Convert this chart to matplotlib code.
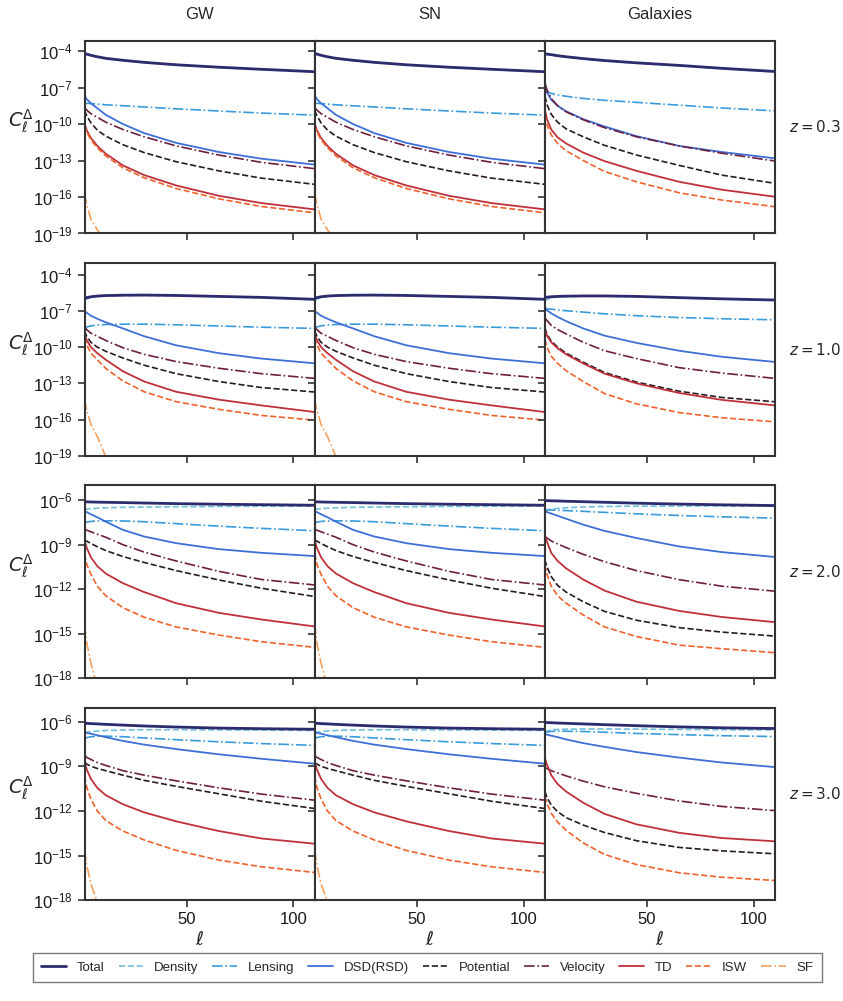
import numpy as np
import matplotlib
matplotlib.use("Agg")
import matplotlib.pyplot as plt
import matplotlib.ticker as mticker
import seaborn as sns

sns.set_style("ticks")
plt.rcParams["font.family"] = ["Liberation Sans", "DejaVu Sans"]
plt.rcParams["mathtext.fontset"] = "dejavusans"

ell = [2, 3, 5, 8, 12, 20, 30, 45, 65, 85, 110]

components = ["Total", "Density", "Lensing", "DSD(RSD)", "Potential",
              "Velocity", "TD", "ISW", "SF"]
surveys = ["GW", "SN", "Galaxies"]
redshifts = ["0.3", "1.0", "2.0", "3.0"]

# log10 C_ell for each component (GW and SN curves coincide)
gw_z03 = {
    "Total":     [-4.19, -4.25, -4.35, -4.47, -4.6, -4.76, -4.93, -5.13, -5.33, -5.5, -5.7],
    "Density":   [-4.21, -4.27, -4.37, -4.49, -4.62, -4.78, -4.95, -5.15, -5.35, -5.52, -5.72],
    "Lensing":   [-8.31, -8.3, -8.32, -8.36, -8.42, -8.5, -8.6, -8.75, -8.93, -9.1, -9.27],
    "DSD(RSD)":  [-7.63, -7.95, -8.3, -8.7, -9.25, -10.0, -10.75, -11.55, -12.3, -12.85, -13.34],
    "Potential": [-8.86, -9.3, -9.9, -10.5, -11.0, -11.7, -12.35, -13.1, -13.85, -14.45, -14.96],
    "Velocity":  [-8.62, -8.85, -9.15, -9.45, -9.85, -10.45, -11.05, -11.8, -12.55, -13.15, -13.67],
    "TD":        [-9.96, -10.5, -11.15, -11.8, -12.45, -13.4, -14.2, -15.05, -15.9, -16.5, -17.02],
    "ISW":       [-10.1, -10.65, -11.3, -11.95, -12.62, -13.6, -14.42, -15.3, -16.15, -16.78, -17.3],
    "SF":        [-15.68, -16.6, -17.8, -18.7, -19.6, -21.0, -22.5, -24.0, -26.0, -28.0, -30.0],
}
gw_z10 = {
    "Total":     [-5.94, -5.9, -5.83, -5.77, -5.73, -5.7, -5.69, -5.72, -5.8, -5.88, -6.04],
    "Density":   [-6.12, -6.02, -5.9, -5.8, -5.75, -5.72, -5.71, -5.74, -5.82, -5.9, -6.06],
    "Lensing":   [-8.4, -8.33, -8.24, -8.17, -8.13, -8.1, -8.1, -8.15, -8.25, -8.35, -8.45],
    "DSD(RSD)":  [-6.99, -7.15, -7.4, -7.65, -7.95, -8.45, -9.1, -9.85, -10.5, -10.95, -11.34],
    "Potential": [-8.65, -9.1, -9.6, -10.0, -10.35, -10.9, -11.5, -12.2, -12.85, -13.35, -13.72],
    "Velocity":  [-8.32, -8.55, -8.85, -9.1, -9.45, -10.05, -10.6, -11.2, -11.75, -12.2, -12.59],
    "TD":        [-8.93, -9.4, -10.0, -10.5, -11.05, -12.0, -12.85, -13.7, -14.35, -14.83, -15.38],
    "ISW":       [-9.2, -9.8, -10.5, -11.05, -11.77, -12.8, -13.7, -14.52, -15.15, -15.66, -16.05],
    "SF":        [-14.3, -15.2, -16.4, -17.4, -19.1, -21.0, -23.0, -25.0, -27.0, -29.0, -31.0],
}
gw_z20 = {
    "Total":     [-6.11, -6.11, -6.12, -6.13, -6.14, -6.16, -6.19, -6.23, -6.27, -6.3, -6.34],
    "Density":   [-6.63, -6.6, -6.57, -6.54, -6.51, -6.48, -6.46, -6.44, -6.42, -6.41, -6.4],
    "Lensing":   [-7.52, -7.48, -7.43, -7.4, -7.39, -7.4, -7.45, -7.58, -7.75, -7.9, -8.06],
    "DSD(RSD)":  [-6.74, -6.8, -6.95, -7.15, -7.45, -8.0, -8.45, -8.9, -9.3, -9.55, -9.77],
    "Potential": [-8.69, -8.76, -8.92, -9.14, -9.4, -9.8, -10.2, -10.75, -11.38, -11.94, -12.5],
    "Velocity":  [-7.95, -8.02, -8.13, -8.29, -8.5, -9.0, -9.5, -10.1, -10.8, -11.35, -11.72],
    "TD":        [-8.69, -9.2, -9.85, -10.45, -10.95, -11.6, -12.2, -12.95, -13.6, -14.05, -14.52],
    "ISW":       [-9.6, -10.3, -11.0, -11.8, -12.45, -13.25, -13.9, -14.55, -15.1, -15.55, -15.93],
    "SF":        [-14.3, -15.6, -17.0, -18.6, -20.5, -22.0, -24.0, -26.0, -28.0, -30.0, -32.0],
}
gw_z30 = {
    "Total":     [-6.11, -6.12, -6.14, -6.16, -6.19, -6.24, -6.3, -6.37, -6.44, -6.48, -6.52],
    "Density":   [-6.74, -6.72, -6.68, -6.64, -6.6, -6.57, -6.55, -6.55, -6.56, -6.58, -6.6],
    "Lensing":   [-7.15, -7.08, -7.02, -6.99, -6.98, -7.02, -7.1, -7.22, -7.36, -7.48, -7.6],
    "DSD(RSD)":  [-6.74, -6.76, -6.82, -6.92, -7.05, -7.3, -7.55, -7.85, -8.2, -8.5, -8.83],
    "Potential": [-8.76, -8.85, -9.0, -9.15, -9.3, -9.6, -9.95, -10.35, -10.85, -11.35, -11.84],
    "Velocity":  [-8.31, -8.4, -8.55, -8.75, -8.95, -9.3, -9.6, -9.98, -10.45, -10.87, -11.28],
    "TD":        [-8.65, -9.2, -9.85, -10.45, -10.95, -11.55, -12.1, -12.7, -13.35, -13.85, -14.2],
    "ISW":       [-9.66, -10.4, -11.2, -12.0, -12.65, -13.35, -13.95, -14.65, -15.3, -15.75, -16.13],
    "SF":        [-14.6, -15.6, -16.9, -18.1, -20.0, -22.0, -24.0, -26.0, -28.0, -30.0, -32.0],
}

gal_z03 = {
    "Total":     [-4.22, -4.25, -4.3, -4.38, -4.47, -4.62, -4.78, -4.97, -5.18, -5.42, -5.68],
    "Density":   [-4.25, -4.28, -4.33, -4.41, -4.5, -4.65, -4.81, -5.0, -5.21, -5.45, -5.71],
    "Lensing":   [-7.32, -7.38, -7.48, -7.6, -7.72, -7.9, -8.05, -8.22, -8.45, -8.68, -8.92],
    "DSD(RSD)":  [-6.9, -7.4, -8.0, -8.5, -8.95, -9.6, -10.2, -11.0, -11.8, -12.3, -12.82],
    "Potential": [-7.7, -8.4, -9.2, -9.85, -10.4, -11.05, -11.75, -12.55, -13.4, -14.2, -14.88],
    "Velocity":  [-6.6, -7.2, -7.9, -8.5, -9.0, -9.65, -10.3, -11.05, -11.8, -12.4, -13.04],
    "TD":        [-8.8, -9.6, -10.45, -11.1, -11.6, -12.35, -13.05, -13.85, -14.75, -15.4, -15.98],
    "ISW":       [-9.25, -10.05, -10.9, -11.6, -12.2, -13.0, -13.9, -14.75, -15.65, -16.25, -16.8],
    "SF":        [-30, -30, -30, -30, -30, -30, -30, -30, -30, -30, -30],
}
gal_z10 = {
    "Total":     [-5.88, -5.86, -5.83, -5.8, -5.78, -5.76, -5.76, -5.8, -5.9, -6.0, -6.1],
    "Density":   [-6.16, -6.05, -5.92, -5.84, -5.8, -5.78, -5.78, -5.82, -5.92, -6.02, -6.12],
    "Lensing":   [-6.8, -6.82, -6.86, -6.92, -6.99, -7.1, -7.24, -7.4, -7.55, -7.65, -7.74],
    "DSD(RSD)":  [-6.8, -6.95, -7.2, -7.5, -7.85, -8.45, -9.05, -9.65, -10.3, -10.8, -11.23],
    "Potential": [-8.38, -8.95, -9.5, -10.0, -10.5, -11.25, -12.1, -12.9, -13.65, -14.17, -14.53],
    "Velocity":  [-7.55, -7.8, -8.2, -8.55, -8.9, -9.6, -10.3, -10.95, -11.7, -12.15, -12.59],
    "TD":        [-8.5, -9.05, -9.6, -10.1, -10.6, -11.35, -12.2, -13.0, -13.8, -14.37, -14.83],
    "ISW":       [-9.35, -10.0, -10.75, -11.35, -11.95, -12.85, -13.85, -14.7, -15.42, -15.85, -16.19],
    "SF":        [-30, -30, -30, -30, -30, -30, -30, -30, -30, -30, -30],
}
gal_z20 = {
    "Total":     [-6.02, -6.03, -6.04, -6.05, -6.07, -6.1, -6.14, -6.2, -6.26, -6.31, -6.36],
    "Density":   [-6.7, -6.66, -6.6, -6.55, -6.51, -6.46, -6.42, -6.4, -6.39, -6.39, -6.4],
    "Lensing":   [-6.65, -6.65, -6.66, -6.68, -6.7, -6.75, -6.82, -6.92, -7.03, -7.12, -7.21],
    "DSD(RSD)":  [-6.76, -6.8, -6.9, -7.05, -7.25, -7.65, -8.07, -8.55, -9.12, -9.5, -9.83],
    "Potential": [-10.0, -10.5, -11.15, -11.75, -12.2, -12.85, -13.5, -14.1, -14.6, -14.9, -15.17],
    "Velocity":  [-8.44, -8.55, -8.75, -8.95, -9.2, -9.65, -10.15, -10.75, -11.36, -11.8, -12.14],
    "TD":        [-8.33, -8.8, -9.55, -10.1, -10.6, -11.35, -12.1, -12.85, -13.47, -13.88, -14.23],
    "ISW":       [-10.35, -11.0, -11.8, -12.45, -12.95, -13.75, -14.55, -15.2, -15.78, -16.02, -16.29],
    "SF":        [-30, -30, -30, -30, -30, -30, -30, -30, -30, -30, -30],
}
gal_z30 = {
    "Total":     [-6.07, -6.07, -6.08, -6.1, -6.12, -6.16, -6.21, -6.28, -6.36, -6.42, -6.47],
    "Density":   [-6.74, -6.65, -6.57, -6.53, -6.51, -6.5, -6.5, -6.51, -6.53, -6.55, -6.56],
    "Lensing":   [-6.76, -6.7, -6.66, -6.65, -6.65, -6.67, -6.72, -6.8, -6.88, -6.95, -7.01],
    "DSD(RSD)":  [-6.85, -6.88, -6.95, -7.05, -7.2, -7.45, -7.7, -8.05, -8.42, -8.75, -9.06],
    "Potential": [-10.67, -11.1, -11.6, -12.05, -12.45, -12.95, -13.45, -14.0, -14.45, -14.68, -14.88],
    "Velocity":  [-9.1, -9.15, -9.3, -9.45, -9.65, -10.0, -10.38, -10.82, -11.33, -11.7, -11.98],
    "TD":        [-8.43, -8.9, -9.6, -10.2, -10.7, -11.45, -12.2, -12.9, -13.47, -13.82, -14.04],
    "ISW":       [-11.01, -11.5, -12.15, -12.75, -13.3, -14.15, -14.92, -15.6, -16.15, -16.45, -16.67],
    "SF":        [-30, -30, -30, -30, -30, -30, -30, -30, -30, -30, -30],
}

panels = [
    [gw_z03, gw_z03, gal_z03],
    [gw_z10, gw_z10, gal_z10],
    [gw_z20, gw_z20, gal_z20],
    [gw_z30, gw_z30, gal_z30],
]
# y-range (log10) of each row
row_ylim = [(-19, -3.15), (-19, -3.03), (-18, -4.99), (-18, -5.06)]
row_yticks = [np.arange(-19, -3, 3), np.arange(-19, -3, 3),
              np.arange(-18, -5, 3), np.arange(-18, -5, 3)]

colors = ["#2c2b6c", "#74bfdc", "#3a9bdb", "#3d6fd6", "#2a1a24",
          "#6e1f40", "#c0303a", "#f0622c", "#f5a05c"]
styles = ["-", "--", "-.", "-", "--", "-.", "-", "--", "-."]
widths = [2.0, 1.2, 1.2, 1.3, 1.2, 1.2, 1.3, 1.2, 1.2]

fig, axes = plt.subplots(4, 3, figsize=(8.43, 10.01), dpi=100, sharex=True)
fig.subplots_adjust(left=84.5 / 843, right=775 / 843, top=1 - 40.7 / 1001,
                    bottom=1 - 900.3 / 1001, wspace=0, hspace=0.153)

sci = mticker.FuncFormatter(lambda v, p: r"$\mathregular{10^{%d}}$" % round(np.log10(v)))

for i in range(4):
    for j in range(3):
        ax = axes[i, j]
        data = panels[i][j]
        for k, comp in enumerate(components):
            ax.plot(ell, 10.0 ** np.array(data[comp]), color=colors[k], ls=styles[k],
                    lw=widths[k], label=comp, zorder=3 if k == 0 else 2)
        ax.set_yscale("log")
        ax.set_xlim(2, 110)
        ax.set_ylim(10.0 ** row_ylim[i][0], 10.0 ** row_ylim[i][1])
        ax.set_yticks(10.0 ** row_yticks[i])
        ax.yaxis.set_minor_locator(mticker.NullLocator())
        ax.set_xticks([50, 100])
        ax.tick_params(labelsize=12, length=5, width=1.2, color=".2", labelcolor=".1")
        for s in ax.spines.values():
            s.set_linewidth(1.5)
            s.set_color(".2")
        if j == 0:
            ax.yaxis.set_major_formatter(sci)
            ax.text(-0.275, 0.58, r"$C_\ell^{\Delta}$", transform=ax.transAxes,
                    ha="center", va="center", fontsize=14)
        else:
            ax.tick_params(labelleft=False)
        if i == 0:
            ax.text(0.5, 1.135, surveys[j], transform=ax.transAxes,
                    ha="center", va="center", fontsize=12)
        if i == 3:
            ax.text(0.5, -0.205, r"$\ell$", transform=ax.transAxes,
                    ha="center", va="center", fontsize=14)
        if j == 2:
            ax.text(1.06, 0.55, r"$z = %s$" % redshifts[i], transform=ax.transAxes,
                    ha="left", va="center", fontsize=11)

handles, labels = axes[0, 0].get_legend_handles_labels()
leg = fig.legend(handles, labels, loc="center", bbox_to_anchor=(427.5 / 843, 1 - 967.5 / 1001),
                 ncol=9, fontsize=9.5, frameon=True, fancybox=False, edgecolor=".35",
                 handlelength=1.9, columnspacing=1.05, handletextpad=0.8,
                 borderpad=0.6)
leg.get_frame().set_linewidth(1.0)

fig.savefig("out.png", dpi=100)
